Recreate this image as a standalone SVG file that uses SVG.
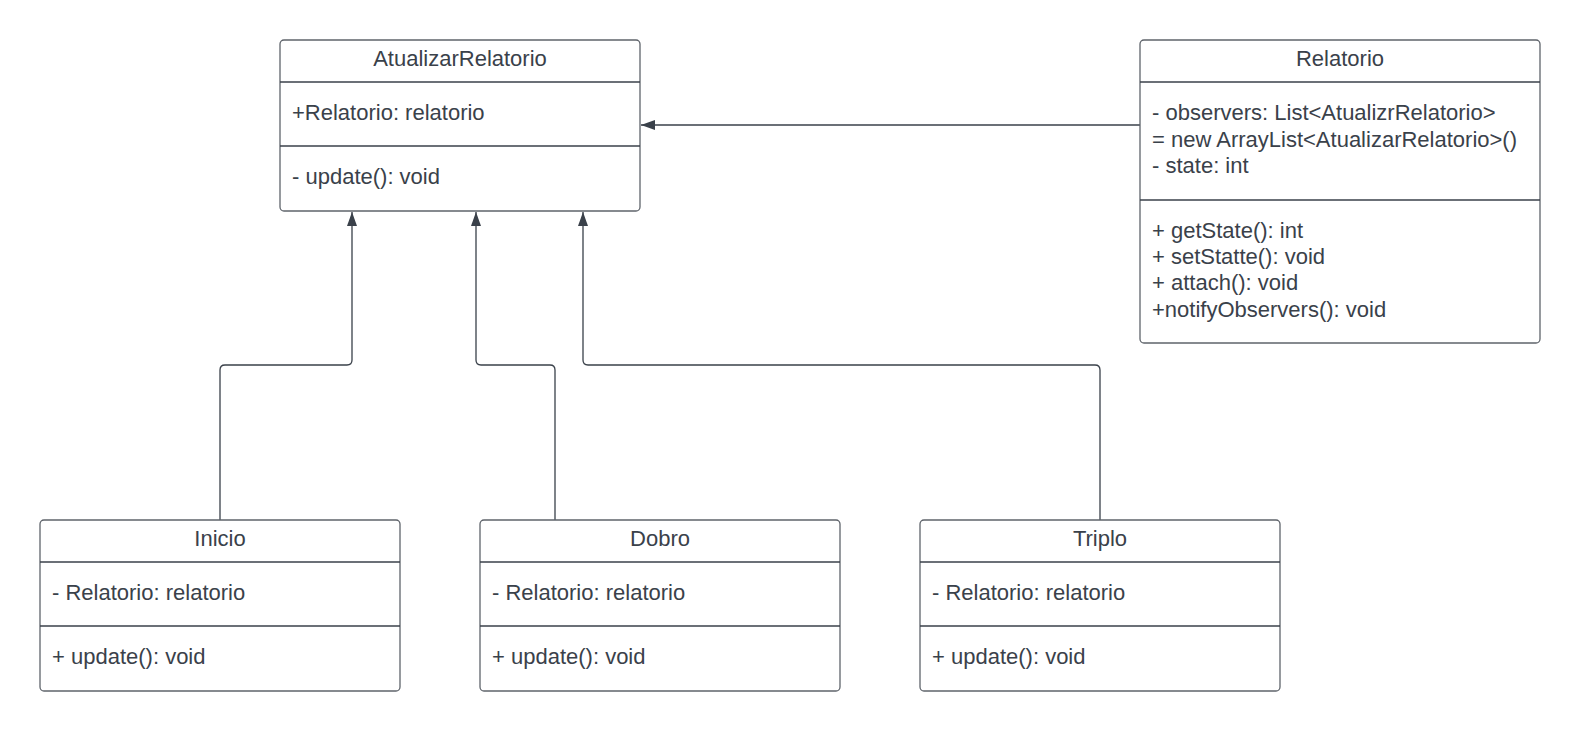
<svg xmlns="http://www.w3.org/2000/svg" width="1580" height="731" viewBox="0 0 1580 731">
<style>
.box{fill:#fff;stroke:#5f646b;stroke-width:1.3}
.div{stroke:#3a414a;stroke-width:1.3}
.t{font-family:"Liberation Sans",Arial,sans-serif;font-size:22px;fill:#3a414a}
.c{text-anchor:middle}
.conn{fill:none;stroke:#3a414a;stroke-width:1.3}
</style>
<defs>
<marker id="arr" viewBox="0 0 14 10" refX="14" refY="5" markerWidth="14" markerHeight="10" markerUnits="userSpaceOnUse" orient="auto">
<path d="M0,0 L14,5 L0,10 Z" fill="#3a414a"/>
</marker>
</defs>
<rect width="1580" height="731" fill="#fff"/>
<g id="connectors">
<path class="conn" d="M1140,125 L641,125" marker-end="url(#arr)"/>
<path class="conn" d="M220,520 L220,370 Q220,365 225,365 L347,365 Q352,365 352,360 L352,212" marker-end="url(#arr)"/>
<path class="conn" d="M555,520 L555,370 Q555,365 550,365 L481,365 Q476,365 476,360 L476,212" marker-end="url(#arr)"/>
<path class="conn" d="M1100,520 L1100,370 Q1100,365 1095,365 L588,365 Q583,365 583,360 L583,212" marker-end="url(#arr)"/>
</g>
<g id="AtualizarRelatorio">
<rect class="box" x="280" y="40" width="360" height="171" rx="4"/>
<line class="div" x1="280" y1="82" x2="640" y2="82"/>
<line class="div" x1="280" y1="146" x2="640" y2="146"/>
<text class="t c" x="460" y="66">AtualizarRelatorio</text>
<text class="t" x="292" y="120">+Relatorio: relatorio</text>
<text class="t" x="292" y="184">- update(): void</text>
</g>
<g id="Relatorio">
<rect class="box" x="1140" y="40" width="400" height="303" rx="4"/>
<line class="div" x1="1140" y1="82" x2="1540" y2="82"/>
<line class="div" x1="1140" y1="200" x2="1540" y2="200"/>
<text class="t c" x="1340" y="66">Relatorio</text>
<text class="t" x="1152" y="120">- observers: List&lt;AtualizrRelatorio&gt;</text>
<text class="t" x="1152" y="147">= new ArrayList&lt;AtualizarRelatorio&gt;()</text>
<text class="t" x="1152" y="173">- state: int</text>
<text class="t" x="1152" y="238">+ getState(): int</text>
<text class="t" x="1152" y="264">+ setStatte(): void</text>
<text class="t" x="1152" y="290">+ attach(): void</text>
<text class="t" x="1152" y="317">+notifyObservers(): void</text>
</g>
<g id="Inicio">
<rect class="box" x="40" y="520" width="360" height="171" rx="4"/>
<line class="div" x1="40" y1="562" x2="400" y2="562"/>
<line class="div" x1="40" y1="626" x2="400" y2="626"/>
<text class="t c" x="220" y="546">Inicio</text>
<text class="t" x="52" y="600">- Relatorio: relatorio</text>
<text class="t" x="52" y="664">+ update(): void</text>
</g>
<g id="Dobro">
<rect class="box" x="480" y="520" width="360" height="171" rx="4"/>
<line class="div" x1="480" y1="562" x2="840" y2="562"/>
<line class="div" x1="480" y1="626" x2="840" y2="626"/>
<text class="t c" x="660" y="546">Dobro</text>
<text class="t" x="492" y="600">- Relatorio: relatorio</text>
<text class="t" x="492" y="664">+ update(): void</text>
</g>
<g id="Triplo">
<rect class="box" x="920" y="520" width="360" height="171" rx="4"/>
<line class="div" x1="920" y1="562" x2="1280" y2="562"/>
<line class="div" x1="920" y1="626" x2="1280" y2="626"/>
<text class="t c" x="1100" y="546">Triplo</text>
<text class="t" x="932" y="600">- Relatorio: relatorio</text>
<text class="t" x="932" y="664">+ update(): void</text>
</g>
</svg>
